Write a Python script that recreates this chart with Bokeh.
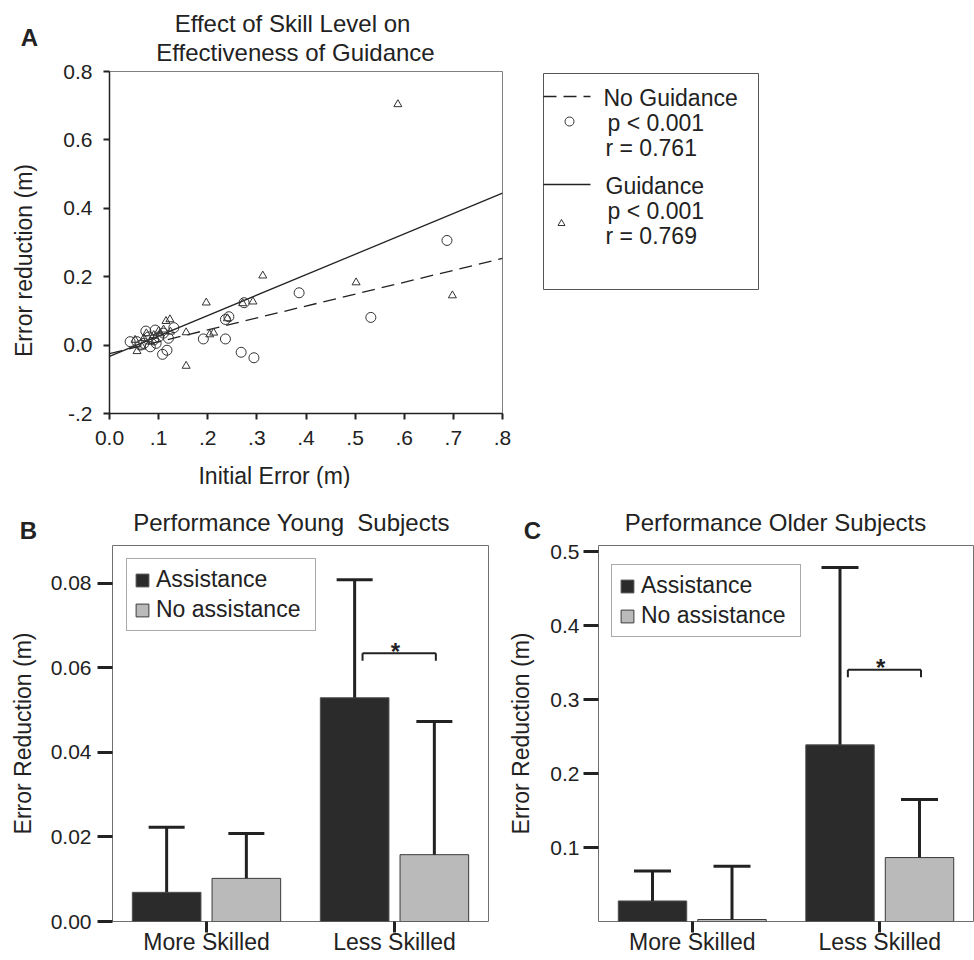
import numpy as np
from bokeh.plotting import figure
from bokeh.models import (Range1d, FactorRange, ColumnDataSource, Label, Whisker,
                          TeeHead, FixedTicker, PrintfTickFormatter)
from bokeh.layouts import row, column
from bokeh.transform import dodge
from bokeh.embed import file_html
from bokeh.resources import INLINE
from bokeh.core.properties import value

FONT = "Liberation Sans"
INK = "#222222"
TITLE_SIZE = "24px"
LABEL_SIZE = "23px"
TICK_SIZE = "21px"

# ------------------------------------------------------------------ data
# Panel A: initial error vs error reduction
no_guid_x = [0.687, 0.386, 0.532, 0.274, 0.243, 0.236, 0.236, 0.191, 0.268, 0.294,
             0.108, 0.117, 0.042, 0.074, 0.093, 0.131, 0.120, 0.070, 0.083, 0.063,
             0.090, 0.100, 0.056, 0.080, 0.110, 0.095]
no_guid_y = [0.306, 0.153, 0.081, 0.124, 0.083, 0.075, 0.018, 0.018, -0.021, -0.037,
             -0.027, -0.015, 0.010, 0.041, 0.044, 0.051, 0.020, 0.005, -0.005, 0.000,
             0.015, 0.024, 0.010, 0.024, 0.035, 0.005]
guid_x = [0.587, 0.698, 0.502, 0.312, 0.197, 0.292, 0.271, 0.240, 0.212, 0.204,
          0.156, 0.156, 0.115, 0.123, 0.100, 0.124, 0.056, 0.052, 0.075, 0.090,
          0.103, 0.066, 0.083, 0.110, 0.070]
guid_y = [0.704, 0.145, 0.183, 0.203, 0.124, 0.127, 0.122, 0.078, 0.036, 0.031,
          0.037, -0.061, 0.070, 0.075, 0.041, 0.039, -0.018, 0.015, 0.034, 0.029,
          0.034, -0.005, 0.010, 0.045, 0.020]
fit_no_guid = (-0.025, 0.348)   # intercept, slope
fit_guid = (-0.033, 0.597)
a_xticks = [0.0, 0.1, 0.2, 0.3, 0.4, 0.5, 0.6, 0.7, 0.8]
a_xtick_labels = ["0.0", ".1", ".2", ".3", ".4", ".5", ".6", ".7", ".8"]
a_yticks = [-0.2, 0.0, 0.2, 0.4, 0.6, 0.8]
a_ytick_labels = ["-.2", "0.0", "0.2", "0.4", "0.6", "0.8"]
a_legend_no_guid = ["No Guidance", "p < 0.001", "r = 0.761"]
a_legend_guid = ["Guidance", "p < 0.001", "r = 0.769"]

# Panels B and C: bar charts
skill = ["More Skilled", "Less Skilled"]
series_names = ["Assistance", "No assistance"]
young_assist = [0.0069, 0.0529]
young_assist_sd = [0.0154, 0.0279]
young_none = [0.0102, 0.0158]
young_none_sd = [0.0106, 0.0315]
older_assist = [0.0278, 0.239]
older_assist_sd = [0.0406, 0.240]
older_none = [0.0027, 0.0865]
older_none_sd = [0.072, 0.0785]
young_sig = 0.0634
older_sig = 0.3405
b_yticks = [0.0, 0.02, 0.04, 0.06, 0.08]
c_yticks = [0.1, 0.2, 0.3, 0.4, 0.5]


# ------------------------------------------------------------------ helpers
def make_fig(width, height, left, right, top, bottom, x_range, y_range):
    p = figure(width=width, height=height, x_range=x_range, y_range=y_range,
               output_backend="svg", toolbar_location=None, tools="",
               min_border_left=left, min_border_right=right,
               min_border_top=top, min_border_bottom=bottom)
    p.xgrid.visible = False
    p.ygrid.visible = False
    p.background_fill_color = "white"
    p.border_fill_color = "white"
    p.outline_line_color = "#808080"
    p.outline_line_width = 1
    for ax in p.axis:
        ax.major_label_text_font = FONT
        ax.major_label_text_font_size = TICK_SIZE
        ax.major_label_text_color = INK
        ax.minor_tick_line_color = None
        ax.major_tick_in = 0
        ax.major_tick_line_color = INK
        ax.axis_label_text_font = FONT
        ax.axis_label_text_font_size = LABEL_SIZE
        ax.axis_label_text_font_style = "normal"
        ax.axis_label_text_color = INK
    return p


def mapper(px0, px1, x0, x1, py_bot, py_top, y0, y1):
    fx = lambda px: x0 + (px - px0) * (x1 - x0) / (px1 - px0)
    fy = lambda py: y0 + (py_bot - py) * (y1 - y0) / (py_bot - py_top)
    return fx, fy


def add_text(p, x, y, text, place="center", size=LABEL_SIZE, align="center", angle=0.0,
             bold=False):
    p.add_layout(Label(x=x, y=y, text=text, text_font=FONT, text_font_size=size,
                       text_align=align, text_baseline="middle", angle=angle,
                       text_color=INK, text_font_style="bold" if bold else "normal"),
                 place)


# ------------------------------------------------------------------ panel A
A_X0, A_X1, A_Y0, A_Y1 = 0.0, 0.8, -0.2, 0.8
pA = make_fig(520, 488, 109, 18, 71, 75, Range1d(A_X0, A_X1), Range1d(A_Y0, A_Y1))
fxA, fyA = mapper(109, 502, A_X0, A_X1, 413, 71, A_Y0, A_Y1)

pA.xaxis.ticker = FixedTicker(ticks=a_xticks)
pA.xaxis.major_label_overrides = dict(zip(a_xticks, a_xtick_labels))
pA.yaxis.ticker = FixedTicker(ticks=a_yticks)
pA.yaxis.major_label_overrides = dict(zip(a_yticks, a_ytick_labels))
for ax in pA.axis:
    ax.axis_line_color = INK
    ax.axis_line_width = 1.5
    ax.major_tick_out = 6
    ax.major_tick_line_width = 2
    ax.major_label_standoff = 11

line_x = np.array([A_X0, A_X1])
pA.line(line_x, fit_no_guid[0] + fit_no_guid[1] * line_x, line_color=INK,
        line_width=1.3, line_dash="13 7")
pA.line(line_x, fit_guid[0] + fit_guid[1] * line_x, line_color=INK, line_width=1.3)
pA.scatter(no_guid_x, no_guid_y, marker="circle", size=10, fill_color=None,
           line_color="#333333", line_width=1)
pA.scatter(guid_x, guid_y, marker="triangle", size=8, fill_color=None,
           line_color="#333333", line_width=1)

add_text(pA, fxA(29), fyA(37), "A", place="right", size=TITLE_SIZE, bold=True)
add_text(pA, fxA(292), fyA(23), "Effect of Skill Level on", place="above", size=TITLE_SIZE)
add_text(pA, fxA(295), fyA(52), "Effectiveness of Guidance", place="above", size=TITLE_SIZE)
add_text(pA, fxA(274), fyA(475), "Initial Error (m)", place="below")
add_text(pA, fxA(23), fyA(260), "Error reduction (m)", place="left", angle=np.pi / 2)

# ------------------------------------------------------------------ legend for A
pL = figure(width=440, height=488, x_range=Range1d(520, 960), y_range=Range1d(413, 71),
            output_backend="svg", toolbar_location=None, tools="",
            min_border_left=0, min_border_right=0, min_border_top=71, min_border_bottom=75,
            x_axis_location=None, y_axis_location=None)
pL.xgrid.visible = False
pL.ygrid.visible = False
pL.outline_line_color = None
pL.quad(left=[543], right=[758], top=[73], bottom=[289], fill_color=None,
        line_color="#555555", line_width=1)
pL.line([543, 590], [96, 96], line_color=INK, line_width=1.3, line_dash="13 7")
pL.scatter([569], [121], marker="circle", size=9, fill_color=None,
           line_color="#333333", line_width=1)
pL.line([543, 590], [184, 184], line_color=INK, line_width=1.3)
pL.scatter([561], [223], marker="triangle", size=7, fill_color=None,
           line_color="#333333", line_width=1)
for i, (t, xx) in enumerate(zip(a_legend_no_guid, [603, 607, 605])):
    add_text(pL, xx, 97 + 25 * i, t, align="left")
for i, (t, xx) in enumerate(zip(a_legend_guid, [605, 607, 605])):
    add_text(pL, xx, 185 + 25 * i, t, align="left")


# ------------------------------------------------------------------ panels B, C
def bar_panel(width, left, right, ymax, yticks, fmt, assist, assist_sd, none, none_sd,
              sig, frame_px, tick_standoff, label_standoff, cap, legend_loc, letter,
              title, title_pos, letter_pos):
    p = make_fig(width, 472, left, right, 57, 39, FactorRange(*skill, range_padding=0),
                 Range1d(0, ymax))
    px0, px1 = frame_px
    fx, fy = mapper(px0, px1, 0.0, 2.0, 921, 545, 0.0, ymax)
    p.outline_line_color = "#707070"
    p.yaxis.ticker = FixedTicker(ticks=yticks)
    p.yaxis.formatter = PrintfTickFormatter(format=fmt)
    p.yaxis.axis_line_color = None
    p.yaxis.major_tick_out = 15
    p.yaxis.major_tick_line_width = 3
    p.yaxis.major_label_standoff = tick_standoff
    p.yaxis.axis_label = "Error Reduction (m)"
    p.yaxis.axis_label_standoff = label_standoff
    p.xaxis.axis_line_color = None
    p.xaxis.major_tick_out = 11
    p.xaxis.major_tick_line_width = 3
    p.xaxis.major_label_text_font_size = LABEL_SIZE
    p.xaxis.major_label_standoff = -4

    src = ColumnDataSource(dict(
        skill=skill, assist=assist, none=none,
        assist_hi=[m + s for m, s in zip(assist, assist_sd)],
        none_hi=[m + s for m, s in zip(none, none_sd)]))
    off = 0.212
    p.vbar(x=dodge("skill", -off, range=p.x_range), top="assist", width=0.365,
           source=src, fill_color="#2b2b2b", line_color="#505050", line_width=1,
           legend_label=series_names[0])
    p.vbar(x=dodge("skill", off, range=p.x_range), top="none", width=0.365,
           source=src, fill_color="#b9bab9", line_color="#3a3a3a", line_width=1,
           legend_label=series_names[1])
    for o, lo, hi in [(-off, "assist", "assist_hi"), (off, "none", "none_hi")]:
        p.add_layout(Whisker(source=src, base=dodge("skill", o, range=p.x_range),
                             lower=lo, upper=hi, dimension="height",
                             line_color=INK, line_width=3, lower_head=None,
                             upper_head=TeeHead(size=cap, line_color=INK, line_width=3),
                             level="glyph"))

    # significance bracket
    unit_per_px = ymax / (921 - 545)
    sig_src = ColumnDataSource(dict(cat=[skill[1]], y=[sig], ylow=[sig - 7.5 * unit_per_px],
                                    star=["*"]))
    lo_off, hi_off = -0.17, 0.22
    p.segment(x0=dodge("cat", lo_off, range=p.x_range), x1=dodge("cat", hi_off, range=p.x_range),
              y0="y", y1="y", source=sig_src, line_color=INK, line_width=2)
    for o in (lo_off, hi_off):
        p.segment(x0=dodge("cat", o, range=p.x_range), x1=dodge("cat", o, range=p.x_range),
                  y0="y", y1="ylow", source=sig_src, line_color=INK, line_width=2)
    p.text(x=dodge("cat", 0.005, range=p.x_range), y="y", text="star", source=sig_src,
           text_font=value(FONT), text_font_size="24px", text_font_style="bold",
           text_align="center", text_baseline="middle", y_offset=-2, text_color=INK)

    leg = p.legend[0]
    leg.location = legend_loc
    leg.margin = 0
    leg.padding = 7
    leg.spacing = 3
    leg.glyph_width = 16
    leg.glyph_height = 16
    leg.label_standoff = 6
    leg.label_width = 152
    leg.label_text_font = FONT
    leg.label_text_font_size = LABEL_SIZE
    leg.label_text_color = INK
    leg.border_line_color = "#555555"
    leg.border_line_width = 1
    leg.background_fill_alpha = 1.0

    add_text(p, fx(letter_pos[0]), fy(letter_pos[1]), letter, place="above",
             size=TITLE_SIZE, bold=True)
    add_text(p, fx(title_pos[0]), fy(title_pos[1]), title, place="above", size=TITLE_SIZE)
    return p


pB = bar_panel(495, 112, 7, 0.0889, b_yticks, "%.2f", young_assist, young_assist_sd,
               young_none, young_none_sd, young_sig, (112, 488), 6, 12, 36, (14, 290),
               "B", "Performance Young\u00a0 Subjects", (291, 522), (28, 530))
pC = bar_panel(479, 103, 1, 0.5087, c_yticks, "%.1f", older_assist, older_assist_sd,
               older_none, older_none_sd, older_sig, (598, 973), 4, 13, 37, (13, 284),
               "C", "Performance Older Subjects", (775, 522), (532, 530))

layout = column(row(pA, pL), row(pB, pC))
open("out.html", "w").write(file_html(layout, INLINE))
